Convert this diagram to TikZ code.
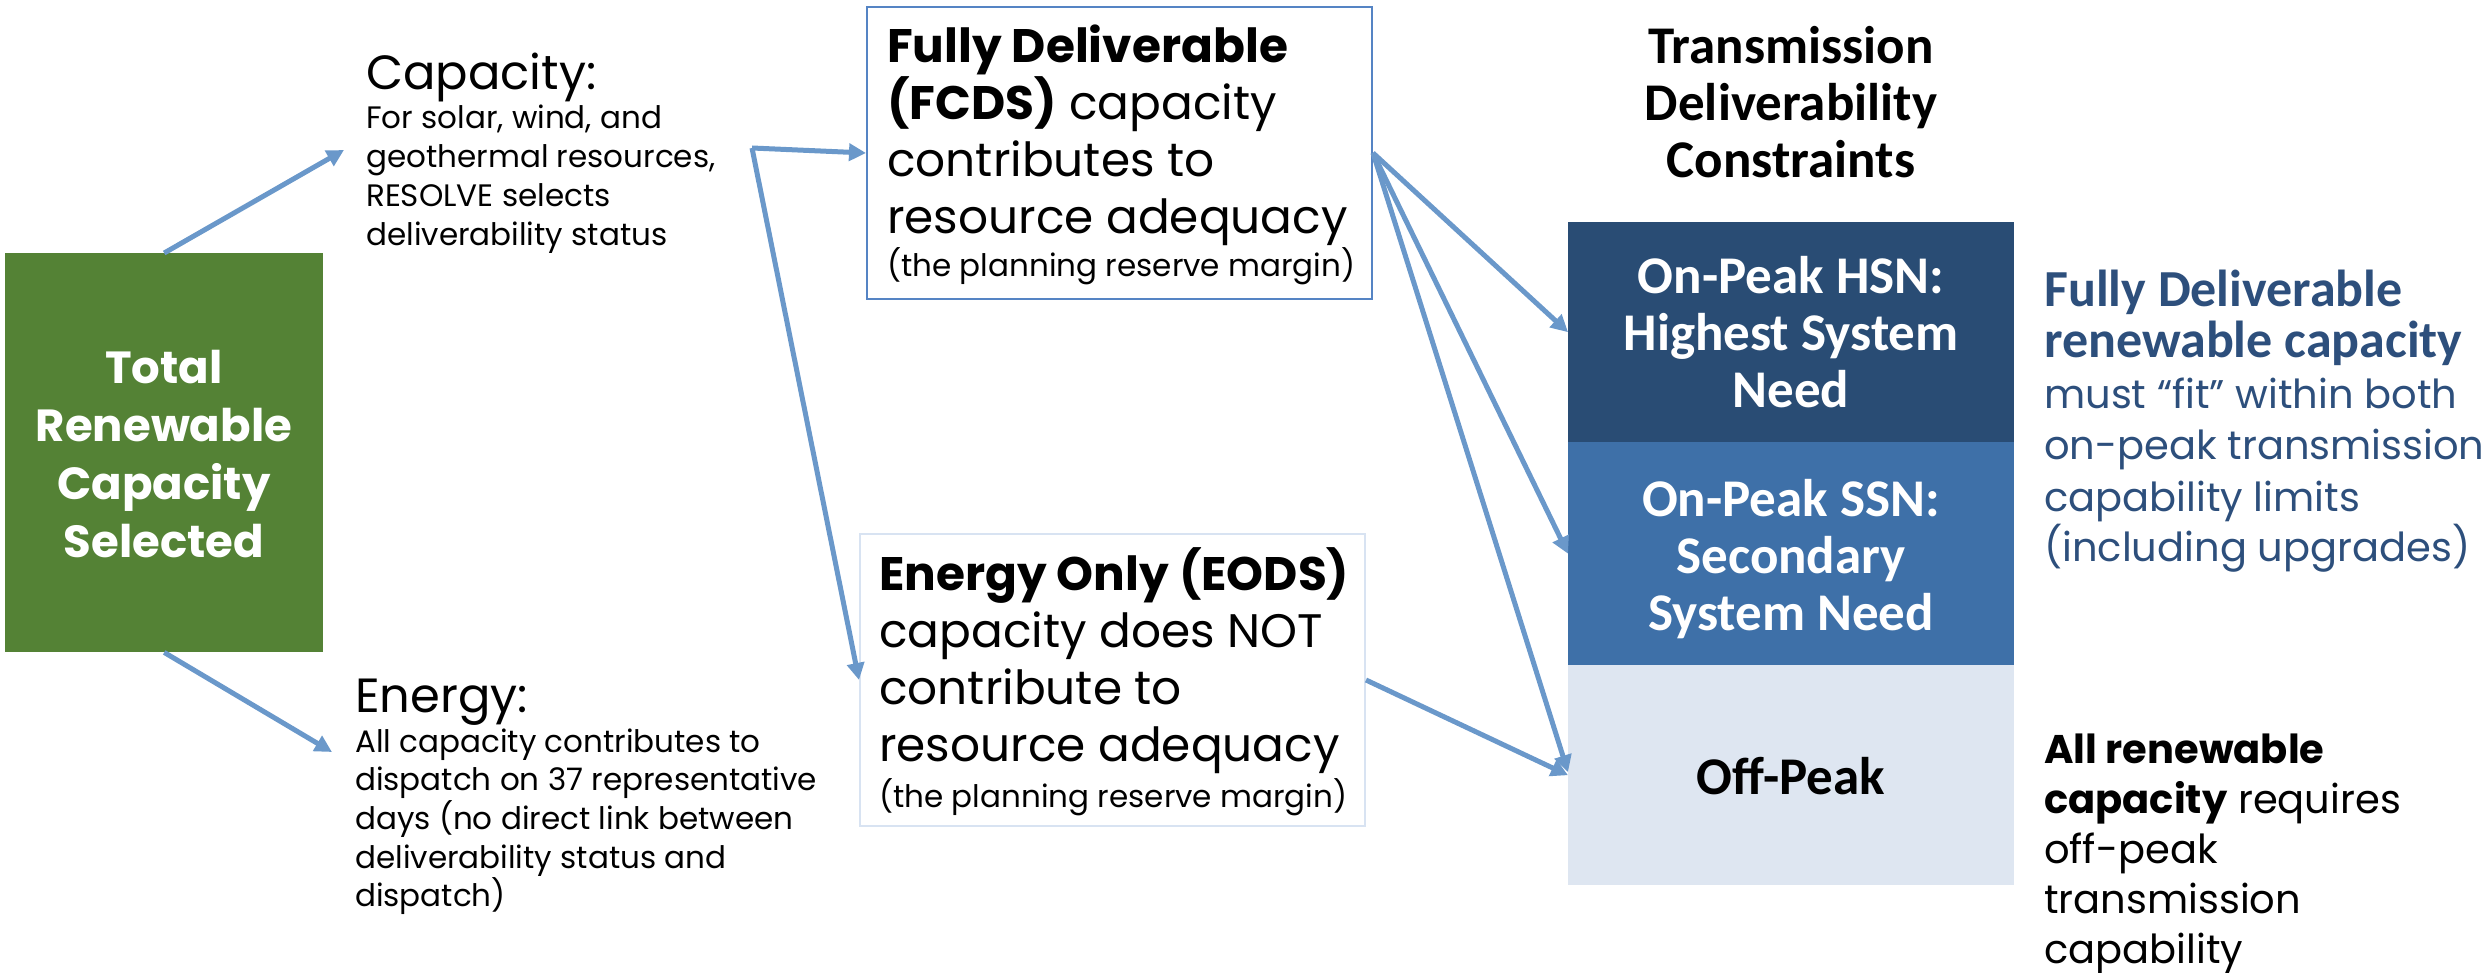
\documentclass[tikz,border=0pt]{standalone}
\usepackage{fontspec}
\setmainfont{Poppins}
\newfontfamily\headfont{Carlito}
\usetikzlibrary{arrows.meta}

\definecolor{leafgreen}{HTML}{548235}
\definecolor{linkblue}{HTML}{6A98CA}
\definecolor{framblue}{HTML}{5584C4}
\definecolor{paleframe}{HTML}{D8E3F2}
\definecolor{hsnblue}{HTML}{294C74}
\definecolor{ssnblue}{HTML}{3E70A8}
\definecolor{offblue}{HTML}{DEE6F1}
\definecolor{noteblue}{HTML}{2D4F7C}

% stacked lines; the block's baseline is the first line's baseline
\newcommand\leftlines[1]{\vtop{\halign{##\hfil\cr#1\crcr}}}
\newcommand\midlines[1]{\vtop{\halign{\hfil##\hfil\cr#1\crcr}}}

\begin{document}
\begin{tikzpicture}[x=1pt,y=-1pt,
  txt/.style={inner sep=0pt, anchor=base west},
  ctxt/.style={inner sep=0pt, anchor=base},
  panel/.style={inner sep=0pt, anchor=north west},
  link/.style={draw=linkblue, line width=5pt, -{Triangle[length=17pt,width=17pt]}},
  big/.style={font=\fontsize{47}{57}\selectfont},
  small/.style={font=\fontsize{31}{39}\selectfont},
  head/.style={font=\headfont\bfseries\fontsize{53}{57}\selectfont}
]
\useasboundingbox (0,0) rectangle (2488,973);

% total selected capacity
\node[panel, fill=leafgreen, minimum width=318pt, minimum height=399pt] (gbox) at (5,253) {};
\node[ctxt, text=white, font=\bfseries\fontsize{45}{58}\selectfont] (gtext) at (164,383)
  {\midlines{Total\cr Renewable\cr Capacity\cr Selected}};

% capacity / energy notes
\node[txt, font=\fontsize{48}{58}\selectfont] (captitle) at (366,90) {Capacity:};
\node[txt, small] (capnote) at (366,129)
  {\leftlines{For solar, wind, and\cr geothermal resources,\cr RESOLVE selects\cr deliverability status}};
\node[txt, font=\fontsize{48}{58}\selectfont] (entitle) at (355,712) {Energy:};
\node[txt, font=\fontsize{31}{38.7}\selectfont] (ennote) at (355,752)
  {\leftlines{All capacity contributes to\cr dispatch on 37 representative\cr days (no direct link between\cr deliverability status and\cr dispatch)}};

% deliverability status boxes
\node[panel, draw=framblue, line width=2pt, minimum width=505pt, minimum height=292pt] (fcds) at (866,6) {};
\node[txt, big] (fcdstext) at (887,63)
  {\leftlines{\bfseries Fully Deliverable\cr {\bfseries (FCDS)} capacity\cr contributes to\cr resource adequacy}};
\node[txt, small] (fcdsnote) at (887,277) {(the planning reserve margin)};

\node[panel, draw=paleframe, line width=2pt, minimum width=505pt, minimum height=292pt] (eods) at (859,533) {};
\node[txt, big] (eodstext) at (879,590)
  {\leftlines{\bfseries Energy Only (EODS)\cr capacity does NOT\cr contribute to\cr resource adequacy}};
\node[txt, small] (eodsnote) at (879,807) {(the planning reserve margin)};

% transmission constraint stack
\node[ctxt, head] (title) at (1791,64) {\midlines{Transmission\cr Deliverability\cr Constraints}};
\node[panel, fill=hsnblue, minimum width=446pt, minimum height=220pt] (hsn) at (1568,222) {};
\node[panel, fill=ssnblue, minimum width=446pt, minimum height=223pt] (ssn) at (1568,442) {};
\node[panel, fill=offblue, minimum width=446pt, minimum height=220pt] (off) at (1568,665) {};
\node[ctxt, head, text=white] (hsntext) at (1791,294) {\midlines{On-Peak HSN:\cr Highest System\cr Need}};
\node[ctxt, head, text=white] (ssntext) at (1791,516) {\midlines{On-Peak SSN:\cr Secondary\cr System Need}};
\node[ctxt, head] (offtext) at (1791,794) {Off-Peak};

% explanations
\node[txt, text=noteblue, font=\fontsize{40}{51}\selectfont] (fdnote) at (2044,307)
  {\leftlines{\headfont\bfseries\fontsize{52}{51}\selectfont Fully Deliverable\cr
   \headfont\bfseries\fontsize{52}{51}\selectfont renewable capacity\cr
   must “fit” within both\cr on-peak transmission\cr capability limits\cr (including upgrades)}};
\node[txt, font=\fontsize{40}{50}\selectfont] (allnote) at (2044,763)
  {\leftlines{\bfseries All renewable\cr {\bfseries capacity} requires\cr off-peak\cr transmission\cr capability}};

% connectors
\coordinate (capin) at (344,150);
\coordinate (enin) at (332,752);
\coordinate (fork) at (752,148);
\draw[link] (gbox.north) -- (capin);
\draw[link] (gbox.south) -- (enin);
\draw[link] (fork) -- (fcds.west);
\draw[link] (fork) -- (eods.west);
\draw[link] (fcds.east) -- (hsn.west);
\draw[link] (fcds.east) -- (ssn.west);
\draw[link] (fcds.east) -- ([yshift=3pt]off.west);
\draw[link] (eods.east) -- (off.west);
\end{tikzpicture}
\end{document}
